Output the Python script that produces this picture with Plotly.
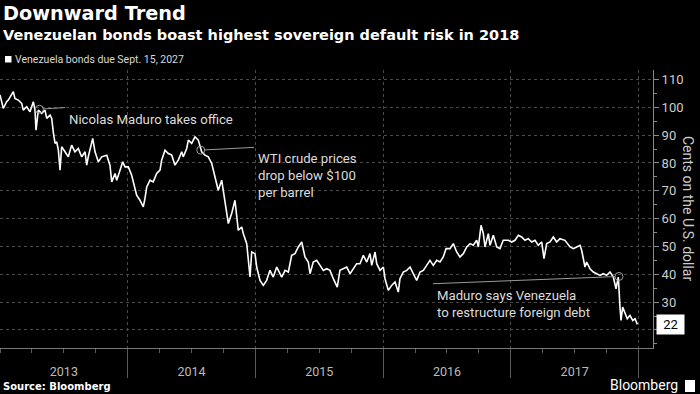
import plotly.graph_objects as go

# ---- data (year as decimal fraction, price in cents on the U.S. dollar) ----
year_frac = [
    2013.000, 2013.008, 2013.026, 2013.052, 2013.065, 2013.104, 2013.117, 2013.143, 2013.170, 2013.182,
    2013.209, 2013.235, 2013.261, 2013.274, 2013.282, 2013.300, 2013.327, 2013.352, 2013.366, 2013.392,
    2013.405, 2013.417, 2013.431, 2013.444, 2013.457, 2013.470, 2013.483, 2013.509, 2013.535, 2013.561,
    2013.587, 2013.613, 2013.640, 2013.666, 2013.679, 2013.691, 2013.726, 2013.744, 2013.770, 2013.796,
    2013.836, 2013.861, 2013.875, 2013.901, 2013.914, 2013.940, 2013.961, 2013.979,
    2014.005, 2014.031, 2014.057, 2014.070, 2014.096, 2014.122, 2014.135, 2014.149, 2014.175, 2014.200,
    2014.227, 2014.253, 2014.266, 2014.292, 2014.318, 2014.345, 2014.370, 2014.396, 2014.423, 2014.435,
    2014.462, 2014.475, 2014.501, 2014.527, 2014.553, 2014.579, 2014.605, 2014.631, 2014.658, 2014.684,
    2014.709, 2014.736, 2014.762, 2014.788, 2014.814, 2014.840, 2014.866, 2014.893, 2014.905, 2014.932,
    2014.958, 2014.971, 2014.997,
    2015.010, 2015.036, 2015.062, 2015.088, 2015.114, 2015.140, 2015.167, 2015.206, 2015.232, 2015.258,
    2015.284, 2015.310, 2015.336, 2015.363, 2015.388, 2015.414, 2015.428, 2015.453, 2015.480, 2015.506,
    2015.532, 2015.558, 2015.584, 2015.610, 2015.641, 2015.662, 2015.688, 2015.715, 2015.741, 2015.767,
    2015.793, 2015.819, 2015.845, 2015.872, 2015.897, 2015.911, 2015.937, 2015.950, 2015.976,
    2016.002, 2016.015, 2016.041, 2016.067, 2016.093, 2016.119, 2016.132, 2016.158, 2016.185, 2016.211,
    2016.236, 2016.263, 2016.289, 2016.315, 2016.341, 2016.367, 2016.393, 2016.420, 2016.446, 2016.471,
    2016.493, 2016.524, 2016.550, 2016.576, 2016.602, 2016.628, 2016.655, 2016.681, 2016.706, 2016.733,
    2016.746, 2016.767, 2016.785, 2016.798, 2016.824, 2016.837, 2016.863, 2016.890, 2016.915, 2016.941,
    2016.981,
    2017.007, 2017.033, 2017.059, 2017.085, 2017.111, 2017.137, 2017.164, 2017.190, 2017.215, 2017.242,
    2017.260, 2017.281, 2017.307, 2017.333, 2017.359, 2017.385, 2017.424, 2017.464, 2017.490, 2017.516,
    2017.542, 2017.555, 2017.568, 2017.581, 2017.594, 2017.620, 2017.646, 2017.673, 2017.699, 2017.724,
    2017.751, 2017.777, 2017.803, 2017.824, 2017.842, 2017.855, 2017.863, 2017.876, 2017.894, 2017.912,
    2017.933, 2017.955, 2017.973, 2017.991,
]
price = [
    104.4, 102.6, 99.6, 102.0, 102.6, 105.6, 103.2, 102.6, 101.4, 99.0,
    100.2, 98.4, 102.0, 99.0, 91.8, 99.0, 97.8, 99.0, 96.0, 97.2,
    96.0, 91.2, 87.0, 87.6, 84.6, 77.4, 85.8, 84.0, 82.2, 86.4,
    84.0, 85.2, 82.2, 84.0, 79.2, 82.2, 88.8, 84.0, 80.4, 82.2,
    82.8, 79.2, 73.2, 76.2, 73.8, 77.4, 80.4, 78.6,
    78.6, 75.6, 71.4, 68.4, 66.6, 64.2, 67.2, 71.4, 73.8, 73.2,
    76.2, 77.4, 81.0, 84.6, 83.4, 82.8, 79.2, 81.0, 84.0, 82.2,
    85.2, 88.2, 87.0, 89.4, 88.2, 84.0, 82.8, 82.2, 79.8, 75.0,
    70.2, 73.8, 66.6, 58.2, 61.8, 66.6, 55.8, 57.0, 54.6, 51.0,
    39.0, 48.0, 47.4,
    42.6, 37.8, 36.0, 37.8, 41.4, 39.0, 42.6, 39.0, 41.4, 40.8,
    46.8, 47.4, 49.8, 51.6, 46.2, 44.4, 40.2, 44.4, 45.0, 43.2,
    41.4, 42.0, 41.4, 38.4, 35.4, 41.4, 42.0, 42.6, 40.2, 42.0,
    43.8, 43.8, 46.8, 44.4, 47.4, 43.2, 48.0, 43.8, 41.4,
    42.6, 38.4, 34.2, 36.0, 37.2, 33.6, 38.4, 40.8, 41.4, 42.6,
    40.2, 37.8, 40.8, 41.4, 43.2, 45.0, 43.2, 45.0, 44.4, 46.2,
    49.2, 49.2, 51.0, 48.0, 46.2, 47.4, 49.8, 51.0, 50.4, 52.2,
    49.8, 57.6, 54.6, 49.8, 54.6, 50.4, 54.0, 49.8, 49.2, 52.2,
    52.2,
    51.6, 52.2, 54.0, 53.4, 52.2, 52.8, 51.6, 52.2, 50.4, 51.6,
    45.6, 51.0, 51.6, 53.4, 51.6, 52.8, 52.2, 49.8, 49.2, 49.8,
    50.4, 48.6, 45.0, 42.6, 44.4, 42.0, 40.8, 40.2, 39.6, 40.2,
    39.6, 40.8, 39.0, 34.8, 39.0, 28.2, 23.4, 28.2, 26.4, 24.0,
    25.2, 23.4, 24.0, 22.0,
]
assert len(year_frac) == len(price)

event_x = [2013.308, 2014.572, 2017.847]
event_y = [99.3, 84.6, 39.2]
event_text = [
    "Nicolas Maduro takes office",
    "WTI crude prices<br>drop below $100<br>per barrel",
    "Maduro says Venezuela<br>to restructure foreign debt",
]
label_x = [2013.509, 2014.989, 2016.391]
label_y = [99.9, 85.6, 36.6]

year_bounds = [2014, 2015, 2016, 2017, 2018]
year_label_pos = [2013.5, 2014.5, 2015.5, 2016.5, 2017.5]
year_labels = ["2013", "2014", "2015", "2016", "2017"]
y_ticks = [20, 30, 40, 50, 60, 70, 80, 90, 100, 110]

series_name = "Venezuela bonds due Sept. 15, 2027"
last_value = price[-1]

# ---- figure ----
W, H = 700, 394
ML, MR, MT, MB = 0, 47, 70, 46
PW, PH = W - ML - MR, H - MT - MB
X_RANGE = [2013.0, 2013.0 + PW / 127.7]
Y_RANGE = [13.5, 113.4]

def py(px):  # paper y from pixel y (top origin)
    return (H - MB - px) / PH

def px_(xp):  # paper x from pixel x
    return (xp - ML) / PW

TXT = "Roboto"
fig = go.Figure()
fig.add_trace(go.Scatter(x=year_frac, y=price, mode="lines",
                         line=dict(color="white", width=1.6),
                         name=series_name, showlegend=False, hoverinfo="x+y"))
# event markers (drawn on the overlaid year-label axis, which shares the same range)
fig.add_trace(go.Scatter(x=event_x, y=event_y, mode="markers", xaxis="x2", yaxis="y",
                         marker=dict(symbol="circle-open", size=8, color="#a0a0a0",
                                     line=dict(width=1, color="#a0a0a0")),
                         showlegend=False, hoverinfo="skip"))

annotations = []
for ex, ey, t, lx, ly in zip(event_x, event_y, event_text, label_x, label_y):
    annotations.append(dict(
        x=ex, y=ey, xref="x", yref="y", ax=lx, ay=ly, axref="x", ayref="y",
        text=t, showarrow=True, arrowhead=0, arrowwidth=1, arrowcolor="#9a9a9a",
        standoff=4, xanchor="left", yanchor="top", align="left", borderpad=3,
        font=dict(family=TXT, size=13.2, color="#dcdcdc")))

# titles
annotations.append(dict(xref="paper", yref="paper", x=px_(1), y=py(14), xanchor="left",
                        yanchor="middle", showarrow=False, text="<b>Downward Trend</b>",
                        font=dict(family="DejaVu Sans", size=19.3, color="white")))
annotations.append(dict(xref="paper", yref="paper", x=px_(1), y=py(35), xanchor="left",
                        yanchor="middle", showarrow=False,
                        text="<b>Venezuelan bonds boast highest sovereign default risk in 2018</b>",
                        font=dict(family="DejaVu Sans", size=14.5, color="white")))
# series key
annotations.append(dict(xref="paper", yref="paper", x=px_(13), y=py(59.5), xanchor="left",
                        yanchor="middle", showarrow=False, text=series_name,
                        font=dict(family=TXT, size=10.5, color="#d8d8d8")))
# y axis title
annotations.append(dict(xref="paper", yref="paper", x=px_(688), y=py(208), xanchor="center",
                        yanchor="middle", showarrow=False, text="Cents on the U.S. dollar",
                        textangle=90, font=dict(family=TXT, size=14, color="#cccccc")))
# last value tag
annotations.append(dict(xref="paper", yref="y", x=1, xshift=3, y=last_value, xanchor="left",
                        yanchor="middle", showarrow=False, text=f"{last_value:.0f}",
                        bgcolor="white", borderpad=2, width=23,
                        font=dict(family=TXT, size=13, color="black")))
# footer
annotations.append(dict(xref="paper", yref="paper", x=px_(1), y=py(386), xanchor="left",
                        yanchor="middle", showarrow=False, text="<b>Source: Bloomberg</b>",
                        font=dict(family="DejaVu Sans", size=10, color="white")))
annotations.append(dict(xref="paper", yref="paper", x=px_(680), y=py(385), xanchor="right",
                        yanchor="middle", showarrow=False, text="Bloomberg",
                        font=dict(family=TXT, size=14, color="white")))

shapes = [
    dict(type="rect", xref="paper", yref="paper", x0=px_(5), x1=px_(11.5), y0=py(62.5), y1=py(56),
         fillcolor="white", line=dict(width=0)),
    dict(type="rect", xref="paper", yref="paper", x0=px_(685), x1=px_(695), y0=py(392), y1=py(380),
         fillcolor="white", line=dict(width=0)),
]

fig.update_layout(
    template="none",
    width=W, height=H,
    margin=dict(l=ML, r=MR, t=MT, b=MB, autoexpand=False),
    paper_bgcolor="black", plot_bgcolor="black",
    showlegend=False,
    annotations=annotations, shapes=shapes,
    xaxis=dict(range=X_RANGE, tickmode="array", tickvals=year_bounds, showticklabels=False,
               ticks="outside", ticklen=29, tickcolor="#5a5a5a", tickwidth=1,
               showgrid=True, gridcolor="#4a4a4a", griddash="dot", gridwidth=1,
               showline=True, linecolor="#7a7a7a", linewidth=1, zeroline=False,
               minor=dict(tickmode="linear", tick0=2013, dtick=0.25, ticks="outside",
                          ticklen=4, tickcolor="#5a5a5a", showgrid=False),
               anchor="y", automargin=False),
    xaxis2=dict(range=X_RANGE, overlaying="x", anchor="y", side="bottom",
                tickmode="array", tickvals=year_label_pos, ticktext=year_labels,
                ticks="outside", ticklen=12, tickcolor="rgba(0,0,0,0)",
                showgrid=False, showline=False, zeroline=False, automargin=False,
                tickfont=dict(family=TXT, size=12.5, color="#bbbbbb")),
    yaxis=dict(range=Y_RANGE, side="right", tickmode="array", tickvals=y_ticks,
               ticks="outside", ticklen=5, tickcolor="#8a8a8a",
               showgrid=True, gridcolor="#4a4a4a", griddash="dot", gridwidth=1,
               showline=True, linecolor="#8a8a8a", linewidth=1, zeroline=False,
               tickfont=dict(family=TXT, size=13, color="#cccccc"),
               minor=dict(tickmode="linear", tick0=0, dtick=5, ticks="outside",
                          ticklen=3, tickcolor="#8a8a8a", showgrid=False),
               anchor="x", automargin=False),
)

fig.write_html("out.html", config={"displayModeBar": False},
               post_script="document.body.style.margin='0px';")
